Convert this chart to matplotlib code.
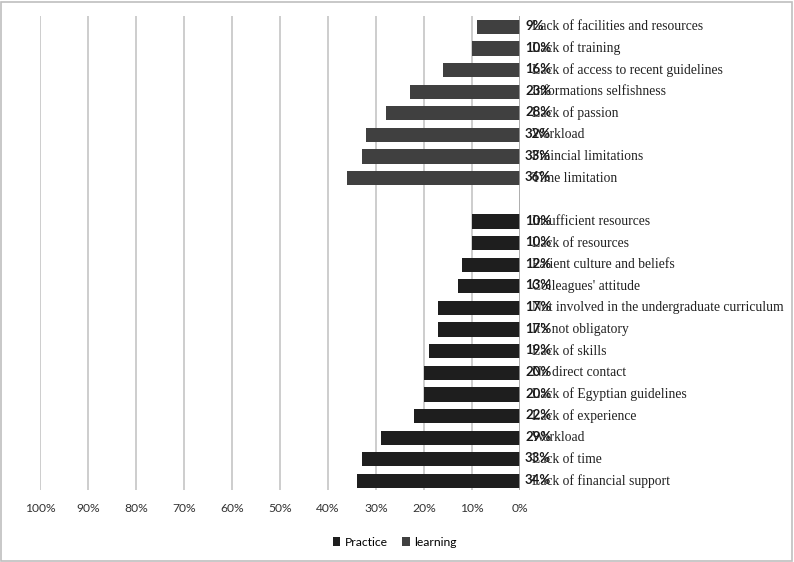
import matplotlib
matplotlib.use("Agg")
import matplotlib.pyplot as plt
from matplotlib.patches import Rectangle, Patch
from matplotlib.transforms import offset_copy

learning_labels = ["Lack of facilities and resources", "Lack of training",
                   "Lack of access to recent guidelines", "Informations selfishness",
                   "Lack of passion", "Workload", "Finincial limitations", "Time limitation"]
learning_values = [9, 10, 16, 23, 28, 32, 33, 36]

practice_labels = ["Insufficient resources", "Lack of resources", "Patient culture and beliefs",
                   "Colleagues' attitude", "Not involved in the undergraduate curriculum",
                   "It's not obligatory", "Lack of skills", "No direct contact",
                   "Lack of Egyptian guidelines", "Lack of experience", "Workload",
                   "Lack of time", "Lack of financial support"]
practice_values = [10, 10, 12, 13, 17, 17, 19, 20, 20, 22, 29, 33, 34]

xticks = [100, 90, 80, 70, 60, 50, 40, 30, 20, 10, 0]

c_learning = "#404040"
c_practice = "#1e1e1e"

fig = plt.figure(figsize=(7.94, 5.62), dpi=100)
ax = fig.add_axes([40/794, 1-490/562, 480/794, 474/562])

n_learn = len(learning_values)
ypos_learn = list(range(n_learn))
ypos_prac = [n_learn + 1 + i for i in range(len(practice_values))]

ax.barh(ypos_learn, learning_values, height=0.66, color=c_learning, zorder=3)
ax.barh(ypos_prac, practice_values, height=0.66, color=c_practice, zorder=3)

ax.set_xlim(100, 0)
ax.set_ylim(ypos_prac[-1] + 0.42, -0.5)
ax.set_xticks(xticks)
ax.set_xticklabels([f"{t}%" for t in xticks], fontfamily="Lato", fontsize=8.7, color="#333333")
ax.tick_params(axis="x", length=0, pad=9)
ax.set_yticks([])
for s in ax.spines.values():
    s.set_visible(False)
ax.grid(axis="x", color="#c0c0c0", linewidth=1.1, zorder=0)
ax.axvline(0, color="#a6a6a6", linewidth=1.1, zorder=4)

tr_pct = offset_copy(ax.transData, fig=fig, x=5, y=0, units="dots")
tr_lab = offset_copy(ax.transData, fig=fig, x=12, y=0, units="dots")

for labels, values, ys in [(learning_labels, learning_values, ypos_learn),
                           (practice_labels, practice_values, ypos_prac)]:
    for lab, v, y in zip(labels, values, ys):
        ax.text(0, y, lab, transform=tr_lab, ha="left", va="center",
                fontfamily="Liberation Serif", fontsize=9.8, color="#222222", zorder=5)
        ax.text(0, y - 0.04, f"{v}%", transform=tr_pct, ha="left", va="center",
                fontfamily="Lato", fontweight="bold", fontsize=9.5, color="#1a1a1a", zorder=6)

handles = [Patch(facecolor=c_practice, label="Practice"),
           Patch(facecolor=c_learning, label="learning")]
fig.legend(handles=handles, loc="center", bbox_to_anchor=(395/794, 1-542/562), ncol=2,
           frameon=False, handlelength=0.6, handleheight=0.8, handletextpad=0.4,
           columnspacing=1.2, prop={"family": "Lato", "size": 8.7})

fig.patches.append(Rectangle((1/794, 1/562), 1-3/794, 1-3/562, transform=fig.transFigure,
                             fill=False, edgecolor="#bfbfbf", linewidth=1.2))

fig.savefig("out.png", dpi=100)
